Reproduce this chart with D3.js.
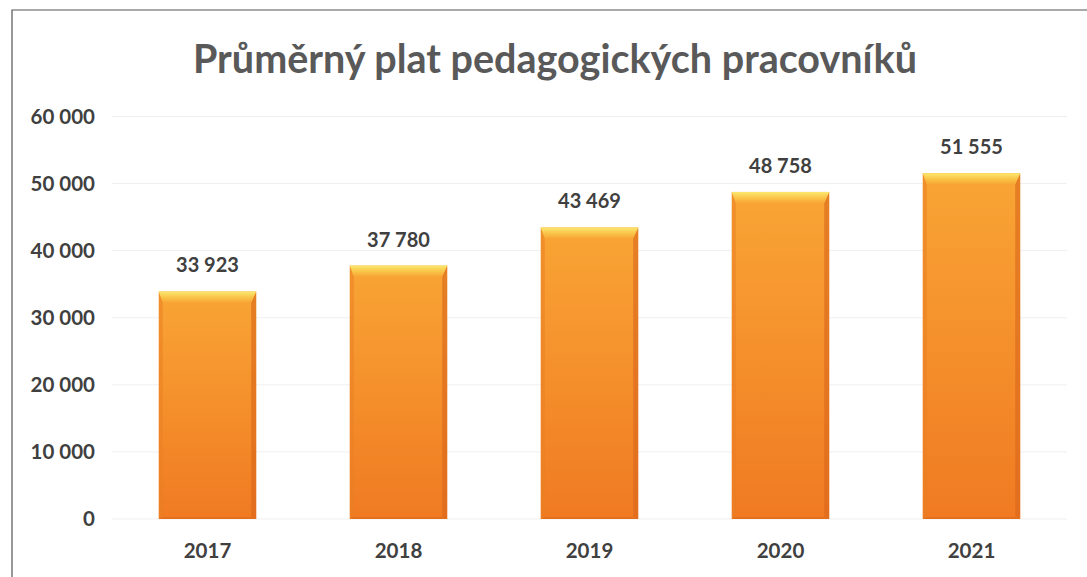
<!DOCTYPE html>
<html>
<head>
<meta charset="utf-8">
<script src="https://cdn.jsdelivr.net/npm/d3@7"></script>
<style>
  body { margin: 0; background: #fff; }
  text { font-family: Lato, "Open Sans", sans-serif; font-weight: bold; }
</style>
</head>
<body>
<div id="chart"></div>
<script>
// Data
const years = ["2017", "2018", "2019", "2020", "2021"];
const salaries = [33923, 37780, 43469, 48758, 51555];
const yTicks = [0, 10000, 20000, 30000, 40000, 50000, 60000];
const title = "Průměrný plat pedagogických pracovníků";

const W = 1087, H = 577;
const margin = { top: 116.5, right: 20, bottom: 58, left: 112 };

const svg = d3.select("#chart")
    .append("svg")
        .attr("width", W)
        .attr("height", H);

const fmt = v => d3.format(",")(v).replace(/,/g, " ");

// Scales
const x = d3.scaleBand()
    .domain(years)
    .range([margin.left, margin.left + 5 * 191])
    .paddingInner(0.49)
    .paddingOuter(0.245);
const y = d3.scaleLinear()
    .domain([0, 60000])
    .range([H - margin.bottom, margin.top]);

// Gradients
const defs = svg.append("defs");
const body = defs.append("linearGradient").attr("id", "body")
    .attr("x1", 0).attr("x2", 0).attr("y1", 0).attr("y2", 1);
body.append("stop").attr("offset", "0%").attr("stop-color", "#f9a535");
body.append("stop").attr("offset", "100%").attr("stop-color", "#f07a22");
const bevel = defs.append("linearGradient").attr("id", "bevel")
    .attr("x1", 0).attr("x2", 0).attr("y1", 0).attr("y2", 1);
bevel.append("stop").attr("offset", "0%").attr("stop-color", "#fce870");
bevel.append("stop").attr("offset", "55%").attr("stop-color", "#f9c447");
bevel.append("stop").attr("offset", "100%").attr("stop-color", "#f8a636");

// Frame
svg.append("path")
    .attr("d", `M12,${H} L12,10 L${W},10`)
    .attr("fill", "none")
    .attr("stroke", "#555")
    .attr("stroke-width", 1.2);

// Title
svg.append("text")
    .attr("x", 555)
    .attr("y", 73)
    .attr("text-anchor", "middle")
    .attr("font-size", 39.5)
    .attr("fill", "#595959")
    .text(title);

// Gridlines
svg.append("g")
    .selectAll("line")
    .data(yTicks)
    .join("line")
        .attr("x1", margin.left)
        .attr("x2", W - margin.right)
        .attr("y1", d => y(d))
        .attr("y2", d => y(d))
        .attr("stroke", "#efefef")
        .attr("stroke-width", 1);

// Y axis
svg.append("g")
    .attr("transform", `translate(${margin.left},0)`)
    .call(d3.axisLeft(y).tickValues(yTicks).tickFormat(fmt).tickSize(0).tickPadding(17))
    .call(g => g.select(".domain").remove())
    .call(g => g.selectAll("text")
        .attr("font-size", 20.5)
        .attr("fill", "#404040")
        .attr("font-family", "Lato, sans-serif")
        .attr("font-weight", "bold"));

// X axis
svg.append("g")
    .attr("transform", `translate(0,${y(0)})`)
    .call(d3.axisBottom(x).tickSize(0).tickPadding(24))
    .call(g => g.select(".domain").remove())
    .call(g => g.selectAll("text")
        .attr("font-size", 20.5)
        .attr("fill", "#404040")
        .attr("font-family", "Lato, sans-serif")
        .attr("font-weight", "bold"));

// Bars with bevelled top
const bars = svg.append("g")
    .selectAll("g.bar")
    .data(years.map((yr, i) => ({ year: yr, value: salaries[i] })))
    .join("g")
        .attr("class", "bar");

const bw = x.bandwidth();
const bev = 11;

bars.append("rect")
    .attr("x", d => x(d.year))
    .attr("y", d => y(d.value))
    .attr("width", bw)
    .attr("height", d => y(0) - y(d.value))
    .attr("fill", "url(#body)");

// side shading
bars.append("path")
    .attr("d", d => {
        const x0 = x(d.year), t = y(d.value), b = y(0);
        return `M${x0},${t} L${x0 + 4},${t + bev} L${x0 + 4},${b - 2} L${x0},${b} Z`;
    })
    .attr("fill", "#ea7f22")
    .attr("opacity", 0.55);
bars.append("path")
    .attr("d", d => {
        const x1 = x(d.year) + bw, t = y(d.value), b = y(0);
        return `M${x1},${t} L${x1 - 5},${t + bev} L${x1 - 5},${b - 2} L${x1},${b} Z`;
    })
    .attr("fill", "#d8661a")
    .attr("opacity", 0.6);
bars.append("path")
    .attr("d", d => {
        const x0 = x(d.year), x1 = x0 + bw, b = y(0);
        return `M${x0},${b} L${x1},${b} L${x1 - 5},${b - 2} L${x0 + 4},${b - 2} Z`;
    })
    .attr("fill", "#d8661a")
    .attr("opacity", 0.5);

bars.append("path")
    .attr("d", d => {
        const x0 = x(d.year), x1 = x0 + bw, t = y(d.value);
        return `M${x0},${t} L${x1},${t} L${x1 - 5},${t + bev} L${x0 + 4},${t + bev} Z`;
    })
    .attr("fill", "url(#bevel)");

// Value labels
bars.append("text")
    .attr("x", d => x(d.year) + bw / 2)
    .attr("y", d => y(d.value) - 19)
    .attr("text-anchor", "middle")
    .attr("font-size", 20)
    .attr("fill", "#404040")
    .text(d => fmt(d.value));
</script>
</body>
</html>
